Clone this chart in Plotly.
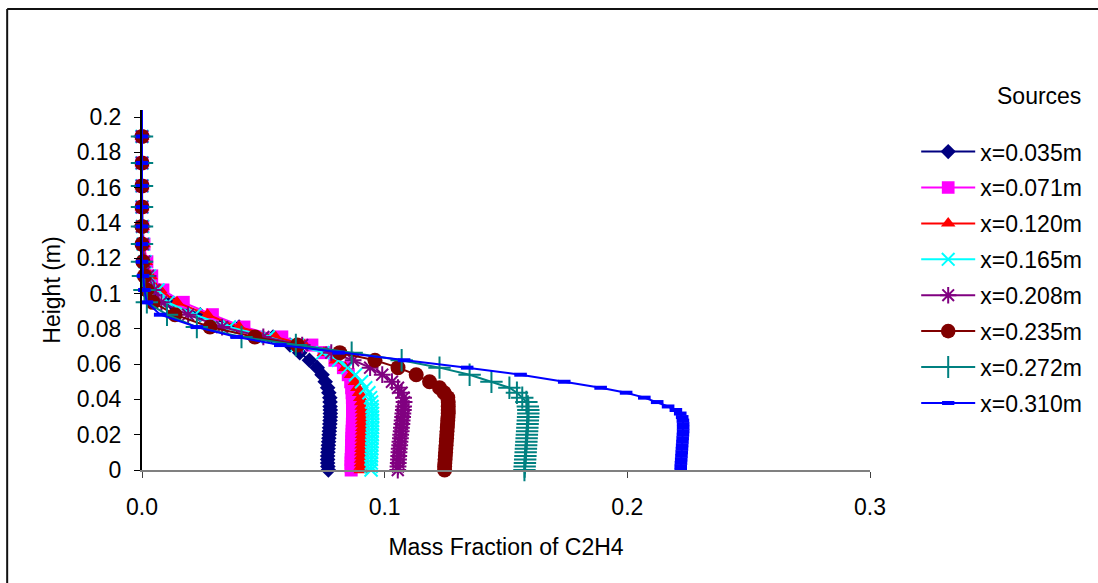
import plotly.graph_objects as go

# Vertical positions of the sampled cells (m), bottom to top
height = [0.000, 0.002, 0.004, 0.006, 0.008, 0.010, 0.012, 0.014, 0.016, 0.018,
          0.020, 0.022, 0.024, 0.026, 0.028, 0.030, 0.032, 0.034, 0.036, 0.0385,
          0.041, 0.0438, 0.0466, 0.050, 0.054, 0.058, 0.0622, 0.0665, 0.0708, 0.0754,
          0.081, 0.088, 0.095, 0.102, 0.110, 0.118, 0.128, 0.138, 0.149, 0.161,
          0.174, 0.189, 0.204]

# C2H4 mass fraction profiles, one per source position
x_0035 = [0.0768, 0.0766, 0.0765, 0.0765, 0.0765, 0.0766, 0.0767, 0.0768, 0.0769, 0.0770,
          0.0771, 0.0772, 0.0773, 0.0774, 0.0775, 0.0776, 0.0776, 0.0776, 0.0775, 0.0775,
          0.0774, 0.0770, 0.0765, 0.0755, 0.0742, 0.0722, 0.0690, 0.0650, 0.0610, 0.0540,
          0.0400, 0.0240, 0.0120, 0.0060, 0.0025, 0.0010, 0.0004, 0.0, 0.0, 0.0,
          0.0, 0.0, 0.0]
x_0071 = [0.0862, 0.0862, 0.0862, 0.0862, 0.0863, 0.0863, 0.0864, 0.0864, 0.0865, 0.0865,
          0.0866, 0.0866, 0.0867, 0.0867, 0.0868, 0.0868, 0.0868, 0.0868, 0.0868, 0.0868,
          0.0867, 0.0866, 0.0864, 0.0860, 0.0850, 0.0830, 0.0795, 0.0750, 0.0700, 0.0576,
          0.0420, 0.0290, 0.0170, 0.0086, 0.0040, 0.0020, 0.0008, 0.0003, 0.0, 0.0,
          0.0, 0.0, 0.0]
x_0120 = [0.0902, 0.0902, 0.0903, 0.0903, 0.0904, 0.0904, 0.0905, 0.0905, 0.0906, 0.0906,
          0.0907, 0.0907, 0.0908, 0.0908, 0.0908, 0.0908, 0.0908, 0.0907, 0.0906, 0.0904,
          0.0900, 0.0895, 0.0888, 0.0878, 0.0862, 0.0838, 0.0800, 0.0750, 0.0670, 0.0550,
          0.0400, 0.0270, 0.0144, 0.0075, 0.0035, 0.0015, 0.0006, 0.0002, 0.0, 0.0,
          0.0, 0.0, 0.0]
x_0165 = [0.0944, 0.0944, 0.0945, 0.0945, 0.0946, 0.0946, 0.0947, 0.0947, 0.0948, 0.0948,
          0.0949, 0.0949, 0.0950, 0.0950, 0.0950, 0.0950, 0.0950, 0.0949, 0.0948, 0.0946,
          0.0942, 0.0935, 0.0922, 0.0905, 0.0880, 0.0848, 0.0810, 0.0745, 0.0640, 0.0520,
          0.0360, 0.0218, 0.0107, 0.0066, 0.0030, 0.0012, 0.0005, 0.0002, 0.0, 0.0,
          0.0, 0.0, 0.0]
x_0208 = [0.1054, 0.1055, 0.1056, 0.1057, 0.1058, 0.1059, 0.1060, 0.1062, 0.1063, 0.1065,
          0.1066, 0.1068, 0.1069, 0.1071, 0.1072, 0.1074, 0.1075, 0.1077, 0.1078, 0.1080,
          0.1078, 0.1070, 0.1055, 0.1030, 0.0990, 0.0940, 0.0870, 0.0780, 0.0660, 0.0500,
          0.0330, 0.0190, 0.0080, 0.0050, 0.0025, 0.0010, 0.0004, 0.0, 0.0, 0.0,
          0.0, 0.0, 0.0]
x_0235 = [0.1247, 0.1247, 0.1248, 0.1249, 0.1250, 0.1251, 0.1252, 0.1253, 0.1254, 0.1255,
          0.1256, 0.1257, 0.1258, 0.1259, 0.1260, 0.1261, 0.1262, 0.1262, 0.1262, 0.1262,
          0.1260, 0.1245, 0.1226, 0.1185, 0.1130, 0.1055, 0.0960, 0.0815, 0.0640, 0.0465,
          0.0280, 0.0136, 0.0045, 0.0020, 0.0010, 0.0004, 0.0, 0.0, 0.0, 0.0,
          0.0, 0.0, 0.0]
x_0272 = [0.1576, 0.1577, 0.1578, 0.1579, 0.1580, 0.1581, 0.1582, 0.1583, 0.1584, 0.1585,
          0.1586, 0.1587, 0.1588, 0.1589, 0.1590, 0.1591, 0.1592, 0.1592, 0.1590, 0.1584,
          0.1567, 0.1545, 0.1514, 0.1440, 0.1350, 0.1226, 0.1070, 0.0864, 0.0634, 0.0410,
          0.0226, 0.0103, 0.0020, 0.0010, 0.0004, 0.0, 0.0, 0.0, 0.0, 0.0,
          0.0, 0.0, 0.0]
x_0310 = [0.2220, 0.2220, 0.2221, 0.2222, 0.2223, 0.2224, 0.2225, 0.2226, 0.2227, 0.2228,
          0.2229, 0.2230, 0.2230, 0.2230, 0.2229, 0.2226, 0.2218, 0.2200, 0.2168, 0.2123,
          0.2070, 0.1995, 0.1890, 0.1740, 0.1560, 0.1340, 0.1080, 0.0810, 0.0570, 0.0390,
          0.0226, 0.0075, 0.0020, 0.0010, 0.0004, 0.0, 0.0, 0.0, 0.0, 0.0,
          0.0, 0.0, 0.0]

labels = ["x=0.035m", "x=0.071m", "x=0.120m", "x=0.165m",
          "x=0.208m", "x=0.235m", "x=0.272m", "x=0.310m"]
profiles = [x_0035, x_0071, x_0120, x_0165, x_0208, x_0235, x_0272, x_0310]

# line colour, marker symbol, marker size, marker outline width
styles = [
    ("#000080", "diamond", 12, 0),
    ("#FF00FF", "square", 13, 0),
    ("#FF0000", "triangle-up", 13, 0),
    ("#00FFFF", "x-thin-open", 13, 2),
    ("#800080", "asterisk-open", 14, 2),
    ("#800000", "circle", 15, 0),
    ("#008080", "cross-thin-open", 16, 2),
    ("#0000FF", "line-ew-open", 9, 4),
]

FONT = "Liberation Sans, Arial, sans-serif"
FS = 23

fig = go.Figure()
n = len(height)
for name, xs, (color, symbol, size, lw) in zip(labels, profiles, styles):
    # the topmost sample carries no marker
    sizes = [size] * (n - 1) + [0]
    fig.add_trace(go.Scatter(
        x=xs, y=height, name=name, mode="lines+markers", legendgroup=name,
        cliponaxis=False,
        line=dict(color=color, width=2),
        marker=dict(symbol=symbol, size=sizes, color=color, opacity=1,
                    line=dict(color=color, width=lw)),
    ))

# outer chart frame (top and left edges)
fig.add_shape(type="line", xref="paper", yref="paper",
              x0=-0.1852, x1=1.6, y0=1.2806, y1=1.2806,
              line=dict(color="#111111", width=2), layer="below")
fig.add_shape(type="line", xref="paper", yref="paper",
              x0=-0.1852, x1=-0.1852, y0=-0.5, y1=1.2806,
              line=dict(color="#111111", width=2), layer="below")

fig.add_annotation(text="Sources", xref="paper", yref="paper",
                   x=1.232, y=1.039, xanchor="center", yanchor="middle",
                   showarrow=False,
                   font=dict(family=FONT, size=FS, color="#000"))

fig.update_layout(
    width=1098, height=583,
    margin=dict(l=142, r=227, t=110, b=113),
    paper_bgcolor="white", plot_bgcolor="white",
    font=dict(family=FONT, size=FS, color="#000"),
    showlegend=True,
    legend=dict(x=1.062, y=0.944, xanchor="left", yanchor="top",
                traceorder="grouped", tracegroupgap=3, itemwidth=54,
                font=dict(family=FONT, size=FS, color="#000"),
                bgcolor="rgba(0,0,0,0)"),
    xaxis=dict(range=[0, 0.3], tickvals=[0, 0.1, 0.2, 0.3], tickformat=".1f",
               showgrid=False, zeroline=False, showline=True,
               linecolor="#808080", linewidth=2,
               ticks="outside", ticklen=6, tickcolor="#404040",
               ticklabelstandoff=9,
               title=dict(text="Mass Fraction of C2H4", standoff=20,
                          font=dict(family=FONT, size=FS))),
    yaxis=dict(range=[0, 0.204],
               tickvals=[0, 0.02, 0.04, 0.06, 0.08, 0.1, 0.12, 0.14, 0.16, 0.18, 0.2],
               showgrid=False, zeroline=False, showline=True,
               linecolor="#000000", linewidth=2,
               ticks="outside", ticklen=6, tickcolor="#000000",
               ticklabelstandoff=8,
               title=dict(text="Height (m)", standoff=10,
                          font=dict(family=FONT, size=FS))),
)

fig.write_html("out.html")
